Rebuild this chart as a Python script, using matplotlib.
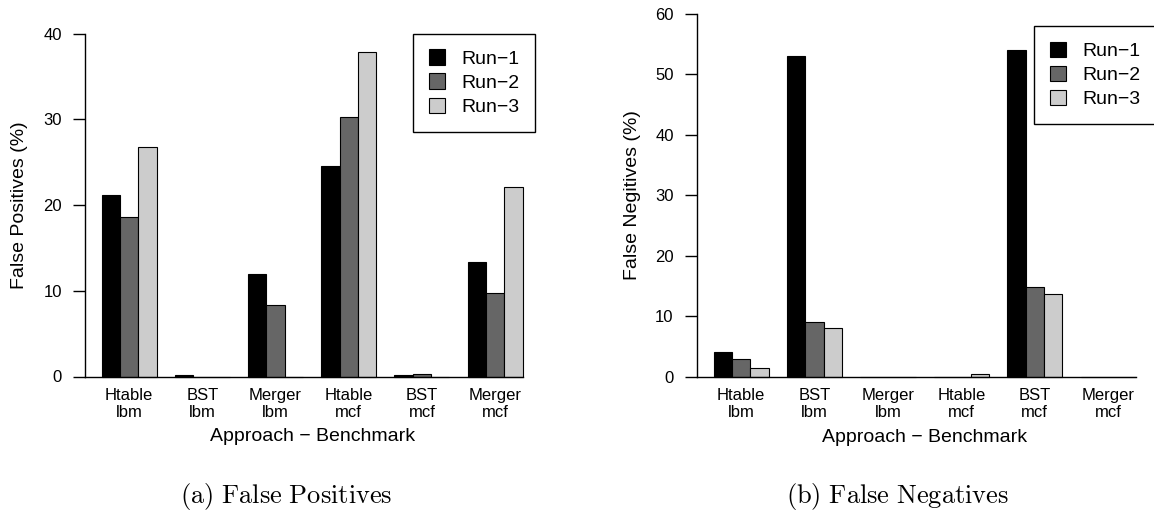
import numpy as np
import matplotlib
matplotlib.use("Agg")
import matplotlib.pyplot as plt
from matplotlib.patches import Patch

plt.rcParams['font.family'] = ['Liberation Sans', 'DejaVu Sans']
plt.rcParams['mathtext.fontset'] = 'cm'

# groups on the x axis
groups = ["Htable\nlbm", "BST\nlbm", "Merger\nlbm", "Htable\nmcf", "BST\nmcf", "Merger\nmcf"]
runs = ["Run\u22121", "Run\u22122", "Run\u22123"]

# false positives (%) per run
fp_run1 = [21.2, 0.15, 12.0, 24.6, 0.12, 13.4]
fp_run2 = [18.6, 0.0, 8.4, 30.3, 0.25, 9.8]
fp_run3 = [26.8, 0.0, 0.0, 37.9, 0.0, 22.1]

# false negatives (%) per run
fn_run1 = [4.1, 53.0, 0.0, 0.0, 54.0, 0.0]
fn_run2 = [3.0, 9.0, 0.0, 0.0, 14.8, 0.0]
fn_run3 = [1.45, 8.0, 0.0, 0.4, 13.6, 0.0]

colors = ['black', '#666666', '#cccccc']

W, H = 1154, 514
fig = plt.figure(figsize=(W / 100, H / 100), dpi=100)


def px_axes(x0, x1, y_top, y_bot):
    return fig.add_axes([x0 / W, 1 - y_bot / H, (x1 - x0) / W, (y_bot - y_top) / H])


def draw_panel(ax, series, ymax, ystep, ylabel):
    # R style barplot: beside=TRUE, space=c(0,1)
    n = len(groups)
    starts = 1 + 4 * np.arange(n)
    for k, vals in enumerate(series):
        ax.bar(starts + k, vals, width=1, align='edge', color=colors[k],
               edgecolor='black', linewidth=0.8, clip_on=False, zorder=3)
    ax.set_xlim(0.08, 24.92)
    ax.set_ylim(0, ymax)
    ax.plot([0.08, 24], [0, 0], color='black', lw=1.0, clip_on=False, zorder=4)
    for s in ['top', 'right', 'bottom']:
        ax.spines[s].set_visible(False)
    ax.spines['left'].set_bounds(0, ymax)
    ax.spines['left'].set_linewidth(1.0)
    ax.set_yticks(np.arange(0, ymax + 1, ystep))
    ax.tick_params(axis='y', length=8.6, width=1.0, labelsize=12, pad=8)
    ax.set_xticks(starts + 1.5)
    ax.set_xticklabels(groups, fontsize=12, linespacing=1.2)
    ax.tick_params(axis='x', length=0, pad=8)
    ax.set_xlabel("Approach \u2212 Benchmark", fontsize=14, labelpad=6)
    ax.set_ylabel(ylabel, fontsize=14)
    ax.patch.set_visible(False)


ax1 = px_axes(84.9, 539.4, 33.7, 376.5)
draw_panel(ax1, [fp_run1, fp_run2, fp_run3], 40, 10, "False Positives (%)")
ax1.yaxis.set_label_coords((28.5 - 84.9) / (539.4 - 84.9), 0.5)

ax2 = px_axes(696.8, 1152.6, 14.0, 376.7)
draw_panel(ax2, [fn_run1, fn_run2, fn_run3], 60, 10, "False Negitives (%)")
ax2.yaxis.set_label_coords((641 - 696.8) / (1152.6 - 696.8), 0.5)

handles = [Patch(facecolor=c, edgecolor='black', linewidth=0.8) for c in colors]
for x0, y0 in [(413, 33.7), (1034, 26)]:
    leg = fig.legend(handles, runs, loc='upper left',
                     bbox_to_anchor=(x0 / W, 1 - y0 / H), bbox_transform=fig.transFigure,
                     fontsize=14, frameon=True, fancybox=False, framealpha=1,
                     edgecolor='black', borderaxespad=0, borderpad=0.8,
                     handlelength=0.85, handleheight=0.85, handletextpad=0.85,
                     labelspacing=0.29)
    leg.get_frame().set_linewidth(1.0)

fig.text(286 / W, 1 - 497 / H, r'$\mathrm{(a)\ False\ Positives}$', fontsize=19,
         ha='center', va='center')
fig.text(897 / W, 1 - 497 / H, r'$\mathrm{(b)\ False\ Negatives}$', fontsize=19,
         ha='center', va='center')

fig.savefig("out.png", dpi=100)
